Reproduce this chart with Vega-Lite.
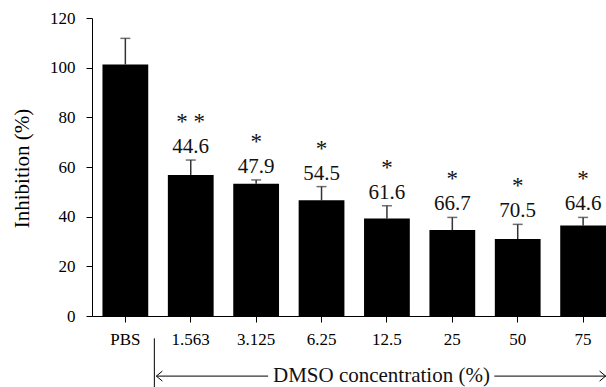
{
  "$schema": "https://vega.github.io/schema/vega-lite/v6.json",
  "width": 514,
  "height": 298,
  "autosize": {"type": "none"},
  "padding": {"left": 92, "top": 18, "right": 0, "bottom": 71},
  "config": {
    "font": "Times New Roman, Times, serif",
    "view": {"stroke": null},
    "axis": {"labelFont": "Times New Roman, Times, serif", "titleFont": "Times New Roman, Times, serif", "domainColor": "#000", "tickColor": "#000", "labelColor": "#000", "titleColor": "#000", "grid": false, "tickSize": 6, "domainWidth": 1, "tickWidth": 1}
  },
  "data": {
    "values": [
      {"cat": "PBS", "value": 101.3, "upper": 111.8, "pct": "", "star": ""},
      {"cat": "1.563", "value": 56.8, "upper": 62.8, "pct": "44.6", "star": "* *"},
      {"cat": "3.125", "value": 53.3, "upper": 54.8, "pct": "47.9", "star": "*"},
      {"cat": "6.25", "value": 46.6, "upper": 52.1, "pct": "54.5", "star": "*"},
      {"cat": "12.5", "value": 39.3, "upper": 44.4, "pct": "61.6", "star": "*"},
      {"cat": "25", "value": 34.6, "upper": 39.7, "pct": "66.7", "star": "*"},
      {"cat": "50", "value": 31.0, "upper": 36.9, "pct": "70.5", "star": "*"},
      {"cat": "75", "value": 36.4, "upper": 39.7, "pct": "64.6", "star": "*"}
    ]
  },
  "encoding": {
    "x": {
      "field": "cat", "type": "nominal", "sort": null,
      "scale": {"paddingInner": 0.3, "paddingOuter": 0.08, "align": 1},
      "axis": {"title": null, "labelAngle": 0, "labelFontSize": 17, "labelPadding": 9}
    }
  },
  "layer": [
    {
      "mark": {"type": "rule", "color": "#333", "strokeWidth": 1.5},
      "encoding": {
        "y": {"field": "upper", "type": "quantitative", "scale": {"domain": [0, 120], "nice": false},
          "axis": {"values": [0, 20, 40, 60, 80, 100, 120], "labelFontSize": 17, "labelPadding": 11, "title": "Inhibition (%)", "titleFontSize": 21, "titleFontWeight": "normal", "titleX": -64, "titleY": 150, "titleAngle": -90, "titleBaseline": "alphabetic", "titleAlign": "center"}},
        "y2": {"field": "value"}
      }
    },
    {
      "mark": {"type": "tick", "orient": "horizontal", "color": "#333", "size": 10, "thickness": 1.5},
      "encoding": {
        "y": {"field": "upper", "type": "quantitative"}
      }
    },
    {
      "mark": {"type": "bar", "color": "#000"},
      "encoding": {
        "y": {"field": "value", "type": "quantitative"}
      }
    },
    {
      "mark": {"type": "text", "fontSize": 21, "baseline": "alphabetic", "dy": -7, "color": "#111"},
      "encoding": {
        "y": {"field": "upper", "type": "quantitative"},
        "text": {"field": "pct"}
      }
    },
    {
      "mark": {"type": "text", "fontSize": 23, "baseline": "alphabetic", "dy": -31, "color": "#111"},
      "encoding": {
        "y": {"field": "upper", "type": "quantitative"},
        "text": {"field": "star"}
      }
    },
    {
      "data": {"values": [{"cat": "PBS", "y": -9, "y2": -30}]},
      "mark": {"type": "rule", "color": "#000", "strokeWidth": 1, "xOffset": 29},
      "encoding": {
        "y": {"field": "y", "type": "quantitative"},
        "y2": {"field": "y2"}
      }
    },
    {
      "data": {"values": [{"cat": "PBS", "cat2": "3.125", "y": -24.2}]},
      "mark": {"type": "rule", "color": "#000", "strokeWidth": 1, "xOffset": 31, "x2Offset": 12},
      "encoding": {
        "x2": {"field": "cat2"},
        "y": {"field": "y", "type": "quantitative"}
      }
    },
    {
      "data": {"values": [{"cat": "25", "cat2": "75", "y": -24.2}]},
      "mark": {"type": "rule", "color": "#000", "strokeWidth": 1, "xOffset": 42, "x2Offset": 23},
      "encoding": {
        "x2": {"field": "cat2"},
        "y": {"field": "y", "type": "quantitative"}
      }
    },
    {
      "data": {"values": [{"cat": "PBS", "y": -24.2}]},
      "mark": {"type": "point", "shape": "M1.2,-1L0,0L1.2,1", "size": 100, "filled": false, "stroke": "#000", "strokeWidth": 1, "opacity": 1, "xOffset": 31},
      "encoding": {
        "y": {"field": "y", "type": "quantitative"}
      }
    },
    {
      "data": {"values": [{"cat": "75", "y": -24.2}]},
      "mark": {"type": "point", "shape": "M-1.2,-1L0,0L-1.2,1", "size": 100, "filled": false, "stroke": "#000", "strokeWidth": 1, "opacity": 1, "xOffset": 22.5},
      "encoding": {
        "y": {"field": "y", "type": "quantitative"}
      }
    },
    {
      "data": {"values": [{"cat": "12.5", "y": -24.2, "label": "DMSO concentration (%)"}]},
      "mark": {"type": "text", "fontSize": 21, "baseline": "middle", "dx": -5.5, "color": "#111"},
      "encoding": {
        "y": {"field": "y", "type": "quantitative"},
        "text": {"field": "label"}
      }
    }
  ]
}
